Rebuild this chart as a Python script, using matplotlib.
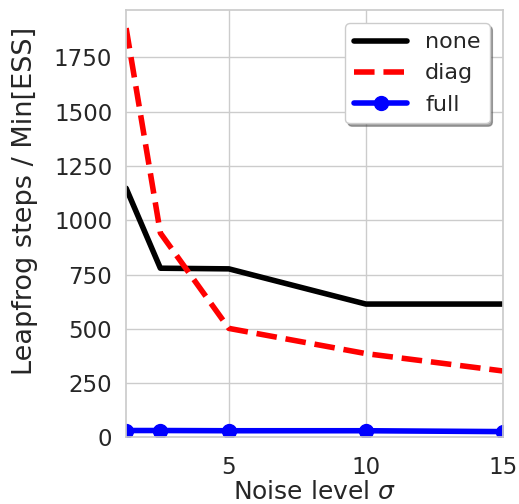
import matplotlib
matplotlib.use("Agg")
import matplotlib.pyplot as plt
import seaborn as sns

sns.set_theme(style="whitegrid")
plt.rcParams['font.family'] = ['DejaVu Sans']

# Noise levels and leapfrog cost per minimum ESS for each mass-matrix type
noise = [1.25, 2.5, 5, 10, 15]
cost_none = [1147, 779, 776, 614, 614]
cost_diag = [1884, 941, 502, 386, 306]
cost_full = [32, 32, 31, 31, 27]

fig = plt.figure(figsize=(5.19, 5.04), dpi=100)
ax = fig.add_axes([0.243, 0.132, 0.726, 0.848])

ax.plot(noise, cost_none, color="black", lw=4, ls="-", label="none")
ax.plot(noise, cost_diag, color="red", lw=4, ls="--", label="diag")
ax.plot(noise, cost_full, color="blue", lw=4, ls="-", marker="o",
        markersize=10, label="full")

ax.set_xlim(noise[0], noise[-1])
ax.set_ylim(0, 1967)
ax.set_xticks([5, 10, 15])
ax.set_yticks([0, 250, 500, 750, 1000, 1250, 1500, 1750])
ax.tick_params(axis="y", labelsize=16.5, pad=4)
ax.tick_params(axis="x", labelsize=16.5, pad=7)
ax.set_xlabel(r"Noise level $\sigma$", fontsize=18, labelpad=1)
ax.set_ylabel("Leapfrog steps / Min[ESS]", fontsize=19.5)
ax.yaxis.set_label_coords(-0.233, 0.553)

ax.legend(loc="upper right", fontsize=16, frameon=True, shadow=True,
          fancybox=True, handlelength=2.4, borderaxespad=0.6)

fig.savefig("out.png", dpi=100)
